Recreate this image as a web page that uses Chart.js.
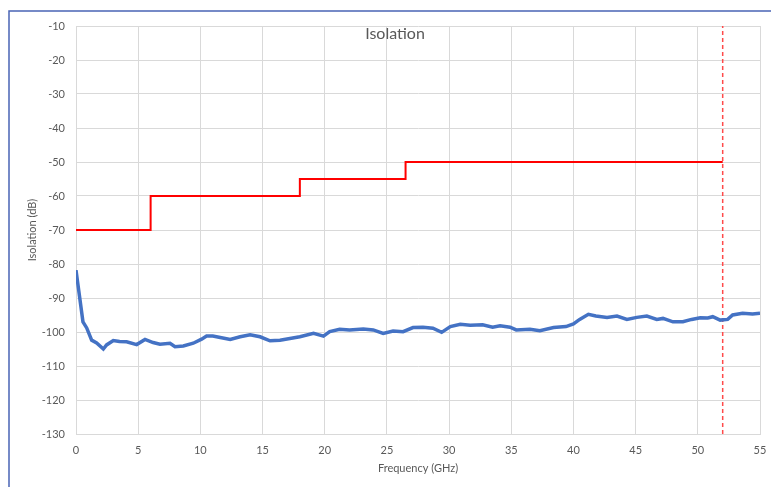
<!DOCTYPE html>
<html>
<head>
<meta charset="utf-8">
<script src="https://cdn.jsdelivr.net/npm/chart.js@4/dist/chart.umd.min.js"></script>
<style>
  html, body { margin: 0; padding: 0; background: #fff; }
  #wrap { width: 771px; height: 487px; position: relative; }
</style>
</head>
<body>
<div id="wrap"><canvas id="grafico"></canvas></div>
<script>
const freqGHz = [0, 0.56, 0.86, 1.26, 1.66, 2.2, 2.46, 3.0, 3.5, 4.07, 4.88, 5.55, 6.2, 6.75, 7.56, 7.96,
  8.63, 9.43, 10.1, 10.5, 11.0, 11.6, 12.4, 13.2, 14.0, 14.8, 15.6, 16.4, 17.2, 18.0, 19.1, 19.9,
  20.4, 21.2, 22.0, 23.1, 23.9, 24.7, 25.5, 26.3, 27.1, 27.9, 28.7, 29.4, 30.1, 30.9, 31.7, 32.7,
  33.5, 34.1, 34.9, 35.4, 36.5, 37.3, 38.4, 39.4, 40.0, 40.5, 41.2, 41.8, 42.7, 43.5, 44.3, 45.1,
  45.9, 46.7, 47.2, 48.0, 48.8, 49.5, 50.2, 50.8, 51.2, 51.8, 52.4, 52.8, 53.6, 54.4, 55];
const isolationDb = [-81.8, -97, -98.8, -102.4, -103.2, -105, -103.8, -102.5, -102.8, -102.9, -103.7, -102.2, -103.1, -103.6, -103.3, -104.3,
  -104.1, -103.3, -102.1, -101.2, -101.2, -101.6, -102.2, -101.4, -100.8, -101.4, -102.6, -102.4, -101.9, -101.4, -100.4, -101.2,
  -99.9, -99.2, -99.4, -99.1, -99.4, -100.4, -99.7, -99.9, -98.7, -98.6, -98.9, -100.1, -98.4, -97.7, -98.0, -97.9,
  -98.6, -98.2, -98.6, -99.4, -99.2, -99.6, -98.7, -98.4, -97.6, -96.3, -94.8, -95.3, -95.7, -95.3, -96.3, -95.7,
  -95.3, -96.3, -96.0, -97.0, -97.0, -96.3, -95.8, -95.9, -95.5, -96.5, -96.3, -95.0, -94.5, -94.7, -94.5];

// Limite de especificacion (escalones)
const limitFreq = [0, 6, 6, 18, 18, 26.5, 26.5, 52];
const limitDb = [-70, -70, -60, -60, -55, -55, -50, -50];

// Marcador vertical
const markerFreq = 52;
const yMin = -130, yMax = -10;
const xMin = 0, xMax = 55;

const fuente = "Lato, 'Open Sans', sans-serif";
const gris = '#595959';

// Marco azul y titulo dentro del area
const marcoPlugin = {
  id: 'marco',
  afterDraw(chart) {
    const ctx = chart.ctx;
    ctx.save();
    ctx.strokeStyle = '#4a64b5';
    ctx.lineWidth = 1.5;
    ctx.beginPath();
    ctx.moveTo(9, 500);
    ctx.lineTo(9, 11);
    ctx.lineTo(800, 11);
    ctx.stroke();
    ctx.fillStyle = gris;
    ctx.font = "16px " + fuente;
    ctx.textAlign = 'center';
    ctx.textBaseline = 'middle';
    ctx.fillText('Isolation', 395, 34);
    ctx.restore();
  }
};

const ctx = document.getElementById('grafico').getContext('2d');
new Chart(ctx, {
  type: 'scatter',
  data: {
    datasets: [
      {
        label: 'Isolation',
        data: freqGHz.map((f, i) => ({ x: f, y: isolationDb[i] })),
        showLine: true,
        borderColor: '#4472c4',
        borderWidth: 3.5,
        pointRadius: 0,
        tension: 0
      },
      {
        label: 'Limit',
        data: limitFreq.map((f, i) => ({ x: f, y: limitDb[i] })),
        showLine: true,
        borderColor: '#ff0000',
        borderWidth: 2,
        pointRadius: 0,
        tension: 0
      },
      {
        label: 'Marker',
        data: [{ x: markerFreq, y: yMin }, { x: markerFreq, y: yMax }],
        showLine: true,
        borderColor: '#ff4a4a',
        borderWidth: 1.5,
        borderDash: [4, 3],
        pointRadius: 0
      }
    ]
  },
  options: {
    responsive: true,
    maintainAspectRatio: false,
    animation: false,
    layout: { padding: { left: 0, top: 26, right: 11, bottom: 0 } },
    plugins: {
      legend: { display: false },
      tooltip: { enabled: false }
    },
    scales: {
      x: {
        type: 'linear',
        min: xMin, max: xMax,
        afterFit(scale) { scale.height = 53; scale.paddingRight = 0; scale.paddingLeft = 0; },
        ticks: { stepSize: 5, autoSkip: false, color: gris, padding: 10, font: { family: fuente, size: 11 } },
        grid: { color: '#d9d9d9', drawTicks: false },
        border: { color: '#d9d9d9' },
        title: { display: true, text: 'Frequency (GHz)', color: gris, font: { family: fuente, size: 11 }, padding: { top: 0, bottom: 12 } }
      },
      y: {
        min: yMin, max: yMax,
        afterFit(scale) { scale.width = 76; scale.paddingTop = 0; scale.paddingBottom = 0; },
        ticks: { stepSize: 10, autoSkip: false, color: gris, padding: 11, font: { family: fuente, size: 11 } },
        grid: { color: '#d9d9d9', drawTicks: false },
        border: { color: '#d9d9d9' },
        title: { display: true, text: 'Isolation (dB)', color: gris, font: { family: fuente, size: 11 }, padding: { top: 26, bottom: 0 } }
      }
    }
  },
  plugins: [marcoPlugin]
});
</script>
</body>
</html>
